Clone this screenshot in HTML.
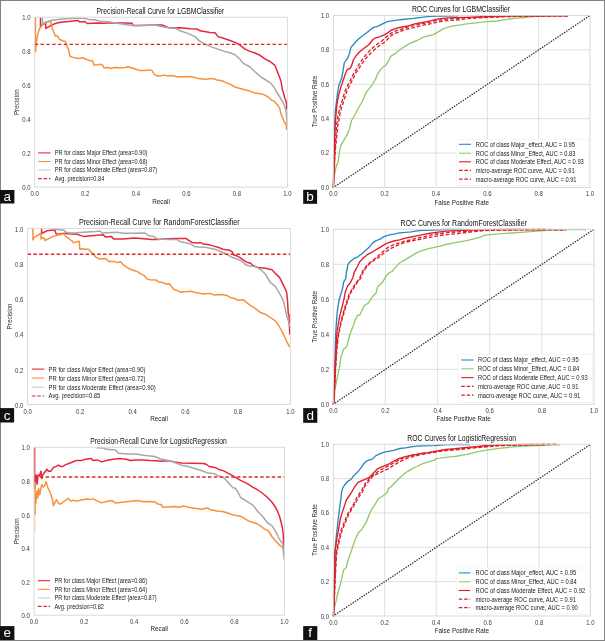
<!DOCTYPE html><html><head><meta charset="utf-8"><style>html,body{margin:0;padding:0;background:#fff;}svg{display:block;will-change:transform;}text{font-family:"Liberation Sans", sans-serif;}</style></head><body>
<svg width="605" height="641" viewBox="0 0 605 641">
<rect x="0" y="0" width="605" height="641" fill="#fff"/>
<g id="pa">
<polyline points="40.5,17.5 40.5,27 42.4,24.8 45.8,23.4 45.8,28.4 48.6,26.9 51.7,25 54.8,23.7 58,22.8 63,21.9 68.7,21.5 78,20.4 79.7,21.9 84.9,21.5 87.2,23.5 96.5,23 104,23.3 110,22.7 125,23 132,23.3 133,25.6 140,25.6 155,25 162,25 170,28.1 180,27.7 190,28.8 197,29 200,30.8 210,32.5 215,32.7 218,36.6 222,37.7 230,40.5 235,42.4 240,45.2 245,49.1 250,51.4 255,53 260,55.3 265,58.9 270,61.5 275,65.4 278,73.2 281,81 282.4,90 283.5,93.1 284.7,97.8 285.9,100.9 286.6,104 286.6,109.5" fill="none" stroke="#e8263f" stroke-width="1.5" stroke-linejoin="round"/>
<polyline points="35.5,17.5 35.5,51.8 36.7,40 38,33.7 39.2,29.4 41.1,26.2 43.6,23.7 46.7,22.2 49.8,21.6 51.1,21.9 51.4,24.4 52,27.5 53,30 54.2,33.1 55.5,36.2 56.7,35.6 58,36.8 59.2,39.3 61.1,40 63,41.2 65.2,41.2 66.4,44.7 68.7,49.9 69.9,56.2 73.3,57.4 78,58.5 82.6,57.7 87.2,59.7 90.7,60.9 92.5,60.6 94,64.9 97,64.7 101,64.3 103,65.5 104,68 108,67.4 110,68.4 115,67.4 120,67.8 125,67.4 128,66.8 132,68 136,69.3 140,70.5 145,70.5 150,69.9 152,70.5 154,74.2 157,75.8 160,76.1 164,74.9 167,76.1 172,75.5 177,76.7 185,76.7 190,76.4 195,77.4 198,78.6 205,79.2 210,78.8 214,78.8 217,80.1 222,80.8 225,82.1 230,84.2 235,87 240,88.5 250,91.1 254.7,93.1 261.7,93.9 265.6,95.5 269.5,97.8 271,99.7 274.2,101.3 277.3,104.8 279.6,107.9 280.8,113.4 282.4,117.3 284.3,122 286.3,125.1 286.6,129.8" fill="none" stroke="#f7913a" stroke-width="1.5" stroke-linejoin="round"/>
<polyline points="42.4,17.5 42.4,24.4 45.5,22.2 48.6,21.2 51.7,20.3 58,19.4 63,18.9 78,18 86,18.6 89.5,19.8 95.3,19.8 98.8,21 104,21.5 110,22.1 125,24.4 133,25.6 140,25.6 155,25 162,26.7 170,28.1 176,28.5 180,30.8 187,33.1 195,36.6 199,40.6 205,44.1 210,46.4 215,48.1 220,49.9 225,51.6 230,52.8 235,54.8 240,59.2 243,63.1 250,67 255,71.7 260,76.3 265,79.5 270,82.6 273.4,86.4 276,91 278.5,95 280.4,98 283,102.5 285,107.2 286.3,113 286.9,118.8 287.2,124.3" fill="none" stroke="#a8a8a8" stroke-width="1.5" stroke-linejoin="round"/>
<polyline points="34.7,44.4 287.4,44.4" fill="none" stroke="#e0242c" stroke-width="1.35" stroke-linejoin="round" stroke-dasharray="3.5 2.3"/>
<rect x="34.7" y="17.2" width="252.7" height="169.9" fill="none" stroke="#d6d6d6" stroke-width="0.9"/>
<text transform="translate(30.5,190) scale(0.8547,1)" font-size="7" fill="#3a3a3a" text-anchor="end">0.0</text>
<text transform="translate(34.7,196) scale(0.8547,1)" font-size="7" fill="#3a3a3a" text-anchor="middle">0.0</text>
<text transform="translate(30.5,156) scale(0.8547,1)" font-size="7" fill="#3a3a3a" text-anchor="end">0.2</text>
<text transform="translate(85.2,196) scale(0.8547,1)" font-size="7" fill="#3a3a3a" text-anchor="middle">0.2</text>
<text transform="translate(30.5,122) scale(0.8547,1)" font-size="7" fill="#3a3a3a" text-anchor="end">0.4</text>
<text transform="translate(135.8,196) scale(0.8547,1)" font-size="7" fill="#3a3a3a" text-anchor="middle">0.4</text>
<text transform="translate(30.5,88.1) scale(0.8547,1)" font-size="7" fill="#3a3a3a" text-anchor="end">0.6</text>
<text transform="translate(186.3,196) scale(0.8547,1)" font-size="7" fill="#3a3a3a" text-anchor="middle">0.6</text>
<text transform="translate(30.5,54.1) scale(0.8547,1)" font-size="7" fill="#3a3a3a" text-anchor="end">0.8</text>
<text transform="translate(236.9,196) scale(0.8547,1)" font-size="7" fill="#3a3a3a" text-anchor="middle">0.8</text>
<text transform="translate(30.5,20.1) scale(0.8547,1)" font-size="7" fill="#3a3a3a" text-anchor="end">1.0</text>
<text transform="translate(287.4,196) scale(0.8547,1)" font-size="7" fill="#3a3a3a" text-anchor="middle">1.0</text>
<text transform="translate(96.5,14.1) scale(0.8547,1)" font-size="8.2" fill="#111" textLength="149.5" lengthAdjust="spacingAndGlyphs">Precision-Recall Curve for LGBMClassifier</text>
<text transform="translate(161,203.7) scale(0.8547,1)" font-size="7.4" fill="#222" text-anchor="middle">Recall</text>
<text transform="translate(18.9,102.1) rotate(-90) scale(0.8547,1)" font-size="7.4" fill="#222" text-anchor="middle">Precision</text>
<line x1="38.2" y1="152.9" x2="50.5" y2="152.9" stroke="#e8263f" stroke-width="1.1"/>
<text transform="translate(54.8,155.2) scale(0.8547,1)" font-size="6.6" fill="#1a1a1a">PR for class Major Effect (area=0.90)</text>
<line x1="38.2" y1="161.5" x2="50.5" y2="161.5" stroke="#f7913a" stroke-width="1.1"/>
<text transform="translate(54.8,163.8) scale(0.8547,1)" font-size="6.6" fill="#1a1a1a">PR for class Minor Effect (area=0.68)</text>
<line x1="38.2" y1="170" x2="50.5" y2="170" stroke="#cccccc" stroke-width="1.1"/>
<text transform="translate(54.8,172.3) scale(0.8547,1)" font-size="6.6" fill="#1a1a1a">PR for class Moderate Effect (area=0.87)</text>
<line x1="38.2" y1="178.7" x2="50.5" y2="178.7" stroke="#e0242c" stroke-width="1.2" stroke-dasharray="3.6 1.8"/>
<text transform="translate(54.8,181) scale(0.8547,1)" font-size="6.6" fill="#1a1a1a">Avg. precision=0.84</text>
</g>
<g id="pb">
<line x1="384.7" y1="15.5" x2="384.7" y2="187.5" stroke="#dddddd" stroke-width="0.9"/>
<line x1="333.4" y1="153.1" x2="590" y2="153.1" stroke="#dddddd" stroke-width="0.9"/>
<line x1="436" y1="15.5" x2="436" y2="187.5" stroke="#dddddd" stroke-width="0.9"/>
<line x1="333.4" y1="118.7" x2="590" y2="118.7" stroke="#dddddd" stroke-width="0.9"/>
<line x1="487.4" y1="15.5" x2="487.4" y2="187.5" stroke="#dddddd" stroke-width="0.9"/>
<line x1="333.4" y1="84.3" x2="590" y2="84.3" stroke="#dddddd" stroke-width="0.9"/>
<line x1="538.7" y1="15.5" x2="538.7" y2="187.5" stroke="#dddddd" stroke-width="0.9"/>
<line x1="333.4" y1="49.9" x2="590" y2="49.9" stroke="#dddddd" stroke-width="0.9"/>
<polyline points="333.4,187.5 333.8,170 334.4,140 334.8,125 335,116.9 335.6,108.7 336.6,100.6 337.6,92.5 339.1,84.4 341.6,78.3 343.2,70.2 344.2,63 346.2,60 347.9,57.6 349.4,53.7 350.8,47.7 352.8,45.2 355.8,41.8 358.8,38.8 362.7,35.8 366.7,32.8 370.7,29.4 373.7,27.4 377.6,26.4 381.6,24.4 385.6,22.4 388.5,21.4 392,20.9 396.6,20.1 402.4,19.5 408.1,18.9 413.9,18.4 419.7,17.6 425.5,16.9 431.3,16.4 437.1,16.2 442.9,16 455,15.8 458,15.8" fill="none" stroke="#2a88c0" stroke-width="1.35" stroke-linejoin="round"/>
<polyline points="333.4,187.5 333.5,185.6 334.4,175.7 336,167 338.2,161.5 339.3,152.8 340.9,145.1 344.2,139.7 347.5,134.2 349.7,128.7 350.3,125 351.6,120.5 354.8,115 358.1,108.5 361.4,103 363.6,98.7 365.7,93.2 369,88.8 372.3,84.5 375.6,79 377.8,73.6 381,69.2 383.8,66.5 385.9,65.4 388.7,60.5 390.6,56.4 395.9,53.1 399.8,49.8 405.1,46.4 410.4,43.1 417,40.5 423.6,37.2 428.9,35.6 432.9,34.8 438.2,31.9 443.5,28.6 450.1,26.6 456.7,25.3 460.8,24.8 466.6,23.9 478.1,22.7 487.4,21.6 497.8,21 503.6,19.8 511.7,18.7 517.5,18.1 525,17.5 531.9,16.5 550,16 552,15.9" fill="none" stroke="#92c96a" stroke-width="1.35" stroke-linejoin="round"/>
<polyline points="333.4,187.5 333.6,175 334.2,150 335.2,125 335.9,115.8 336.6,107.7 337.6,100.6 339.1,93.5 341.1,86.4 343.2,80.3 345.2,74.2 347.2,69.6 350.3,68.1 351.8,65.1 353.3,60 356.8,54.7 360.8,50.7 364.7,47.7 368.7,44.7 372.7,39.8 375.6,37.8 379.6,36.8 385,34.6 390.8,30.5 396.6,28.2 402.4,27 408.1,25.9 413.9,24.1 419.7,23 425.5,21.8 431.3,20.7 437.1,19.2 442.9,18.4 448.6,17.8 455,17.7 466.6,17.4 478.1,17 489.7,16.6 501.3,16.3 512.9,16 525,15.8 568,15.8" fill="none" stroke="#dc1f2a" stroke-width="1.35" stroke-linejoin="round"/>
<polyline points="333.4,187.5 334,170 335,150 336.6,125 337.6,118.9 338.6,112.8 340.1,106.7 342.2,100.6 343.7,95.5 345.2,90.5 348.2,84.4 351.3,78.3 353.8,73.2 356.4,69.1 359.6,63.5 363.6,57.5 367.7,52.7 372.7,47.7 377.6,43.8 381.6,41.3 385,38 390.8,33.4 396.6,30.5 402.4,28.8 408.1,27 413.9,25.7 419.7,24.1 425.5,23 431.3,21.8 437.1,20.3 442.9,19.5 455,18.4 478,17.3 501,16.5 525,16 568,15.8" fill="none" stroke="#dc1f2a" stroke-width="1.35" stroke-linejoin="round" stroke-dasharray="3.7 2"/>
<polyline points="333.4,187.5 334.2,170 335.3,150 337.9,125 339.1,118.9 340.2,112.8 341.8,106.7 343.9,100.6 345.5,95.5 347.1,90.5 350.1,84.4 353.2,78.3 355.7,73.2 358.5,69.1 361.5,64.5 365.6,58.5 369.6,54.2 374.6,49.4 379.5,45.5 383.5,43 385.9,40.9 391.7,35.1 396.6,32.8 402.4,30.5 408.1,28.8 413.9,27.6 419.7,26.1 425.5,24.7 431.3,23.6 437.1,22.2 442.9,21 455,20.1 466,18.8 478,17.8 501,16.8 525,16.1 568,15.8" fill="none" stroke="#dc1f2a" stroke-width="1.35" stroke-linejoin="round" stroke-dasharray="3.7 2" stroke-dashoffset="2.2"/>
<polyline points="333.4,187.5 590,15.5" fill="none" stroke="#2a2a2a" stroke-width="1.35" stroke-linejoin="round" stroke-dasharray="0.25 2.4" stroke-linecap="round"/>
<rect x="333.4" y="15.5" width="256.6" height="172" fill="none" stroke="#d6d6d6" stroke-width="0.9"/>
<text transform="translate(329.2,189.7) scale(0.8547,1)" font-size="7" fill="#3a3a3a" text-anchor="end">0.0</text>
<text transform="translate(333.4,196.4) scale(0.8547,1)" font-size="7" fill="#3a3a3a" text-anchor="middle">0.0</text>
<text transform="translate(329.2,155.3) scale(0.8547,1)" font-size="7" fill="#3a3a3a" text-anchor="end">0.2</text>
<text transform="translate(384.7,196.4) scale(0.8547,1)" font-size="7" fill="#3a3a3a" text-anchor="middle">0.2</text>
<text transform="translate(329.2,120.9) scale(0.8547,1)" font-size="7" fill="#3a3a3a" text-anchor="end">0.4</text>
<text transform="translate(436,196.4) scale(0.8547,1)" font-size="7" fill="#3a3a3a" text-anchor="middle">0.4</text>
<text transform="translate(329.2,86.5) scale(0.8547,1)" font-size="7" fill="#3a3a3a" text-anchor="end">0.6</text>
<text transform="translate(487.4,196.4) scale(0.8547,1)" font-size="7" fill="#3a3a3a" text-anchor="middle">0.6</text>
<text transform="translate(329.2,52.1) scale(0.8547,1)" font-size="7" fill="#3a3a3a" text-anchor="end">0.8</text>
<text transform="translate(538.7,196.4) scale(0.8547,1)" font-size="7" fill="#3a3a3a" text-anchor="middle">0.8</text>
<text transform="translate(329.2,17.7) scale(0.8547,1)" font-size="7" fill="#3a3a3a" text-anchor="end">1.0</text>
<text transform="translate(590,196.4) scale(0.8547,1)" font-size="7" fill="#3a3a3a" text-anchor="middle">1.0</text>
<text transform="translate(411.9,12.1) scale(0.8547,1)" font-size="8.2" fill="#111" textLength="114.8" lengthAdjust="spacingAndGlyphs">ROC Curves for LGBMClassifier</text>
<text transform="translate(461.7,204.9) scale(0.8547,1)" font-size="7.4" fill="#222" text-anchor="middle">False Positive Rate</text>
<text transform="translate(317.4,101.5) rotate(-90) scale(0.8547,1)" font-size="7.4" fill="#222" text-anchor="middle">True Positive Rate</text>
<rect x="456.4" y="139.3" width="132.1" height="45.9" fill="#fff" stroke="#f3f3f3" stroke-width="0.8"/>
<line x1="459" y1="144.3" x2="471" y2="144.3" stroke="#2a88c0" stroke-width="1.1"/>
<text transform="translate(475.7,146.7) scale(0.8547,1)" font-size="6.7" fill="#1a1a1a">ROC of class Major_effect, AUC = 0.95</text>
<line x1="459" y1="153.2" x2="471" y2="153.2" stroke="#92c96a" stroke-width="1.1"/>
<text transform="translate(475.7,155.5) scale(0.8547,1)" font-size="6.7" fill="#1a1a1a">ROC of class Minor_Effect, AUC = 0.83</text>
<line x1="459" y1="161.8" x2="471" y2="161.8" stroke="#dc1f2a" stroke-width="1.1"/>
<text transform="translate(475.7,164.2) scale(0.8547,1)" font-size="6.7" fill="#1a1a1a">ROC of class Moderate Effect, AUC = 0.93</text>
<line x1="459" y1="170.3" x2="471" y2="170.3" stroke="#dc1f2a" stroke-width="1.2" stroke-dasharray="3.6 1.8"/>
<text transform="translate(475.7,172.7) scale(0.8547,1)" font-size="6.7" fill="#1a1a1a">micro-average ROC curve, AUC = 0.91</text>
<line x1="459" y1="179.2" x2="471" y2="179.2" stroke="#dc1f2a" stroke-width="1.2" stroke-dasharray="3.6 1.8"/>
<text transform="translate(475.7,181.5) scale(0.8547,1)" font-size="6.7" fill="#1a1a1a">macro-average ROC curve, AUC = 0.91</text>
</g>
<g id="pc">
<polyline points="41.6,228.5 41.6,233.7 44.5,232 46.8,230.8 51.5,230.2 54.9,230.2 56.1,233.7 60.7,234 64.2,233.3 67.7,233.7 72.3,234 76.9,234.3 80.4,235.4 83.9,236.6 88.5,236 94,235.6 103.3,234.8 105.6,237.1 111.4,236.6 113.7,238.9 122.9,239.1 134.5,238 143.8,238.7 151.9,239.5 157.6,239.5 164,239.1 175,238.6 186.3,238.6 189.8,241.2 192.1,242.4 197.9,242.9 200.2,242.4 203.6,244.1 209,244.7 212.9,245.9 217.9,247.3 222.9,249.3 229.8,250.3 232.3,251.8 233.3,254.8 236.7,255.8 239.7,257.3 242.7,259.7 246.7,262.2 250.6,263.2 252.6,265.2 256.6,267.2 260.5,267.7 265.6,268.3 271.9,269.8 275,273 279.7,277.6 282.8,283.9 285.1,288.6 286.7,292.5 287.5,300.3 288.3,314.3 289,314.3 289.3,323.7 289.8,334.6" fill="none" stroke="#e8263f" stroke-width="1.5" stroke-linejoin="round"/>
<polyline points="32.9,228.5 32.9,240 34.1,237.7 36.4,236 38.7,234.8 41,233.1 41,238.9 42.2,237.7 43.9,237.7 45.1,240.6 46.8,239.5 49.1,238.3 52.6,236.6 57.2,235.2 60.7,234.5 64.2,233.7 65.3,236 67.7,237.7 70,239.5 72.3,241.2 73.4,242.9 76.9,241.8 79.2,241.2 79.8,249.3 82.7,248.7 85,249.3 88.5,249.3 90.8,251.6 93.1,253.9 96.3,257.4 99.8,259.1 105.6,258.6 109,261.4 113.7,261.4 117.1,262.6 120.6,261.8 122.9,264.3 126.4,267.2 131,269.5 134.5,270.7 138,271.9 140.3,273.6 144,275.4 146.9,278.9 149.9,279.7 155.9,279.9 158.8,282.1 162.8,282.4 165.8,284 169.3,283.8 171.7,286.8 173.7,289.3 177.7,290.8 180.7,292.3 183.6,291.8 187.6,291.6 191.6,291.3 194.5,292.3 199,292.9 202.9,293.9 209.9,293.4 213.8,294.9 221.8,294.4 226.7,295.4 230.7,297.7 235.7,298.8 237.6,300.3 243.6,299.8 246.6,302.3 249.5,304.8 254.7,308.1 260.9,312.8 265.6,314.3 270.3,317.5 275,320.6 278.1,324.5 281.2,329.9 284.3,336.2 286.7,341.7 289.8,347.1" fill="none" stroke="#f7913a" stroke-width="1.5" stroke-linejoin="round"/>
<polyline points="50,228.8 52,229 64.2,230.2 65.3,232 70,233.1 74.6,232.9 79.2,232.5 83.9,232.2 90.8,231.7 96,231.4 99.8,231 102.1,232.9 117.1,232.2 122.9,233.3 134.5,233.3 144.9,233.1 148.4,235.4 153.9,236.6 157.4,238.9 168.9,239.5 177,239.5 179.3,241.2 184,242.4 186.3,242.9 190.9,244.1 194.4,246.4 197.9,247 205,247.3 210,248.3 214.9,249.3 219.9,251.3 224.8,253.3 228.8,255.3 231.8,257.3 234.8,258.2 238.7,259.7 242.7,261.7 245.7,264.7 248.6,265.7 252.6,266.2 256.2,266.7 260.9,269.8 265.6,274.5 270.3,282.3 275,286.2 278.1,290.9 281.2,296.4 283.6,301.8 285.1,308.1 286.7,315.9 288.3,320.6 289.8,326.8" fill="none" stroke="#a8a8a8" stroke-width="1.5" stroke-linejoin="round"/>
<polyline points="27.6,254.2 290.4,254.2" fill="none" stroke="#e0242c" stroke-width="1.35" stroke-linejoin="round" stroke-dasharray="3.5 2.3"/>
<rect x="27.6" y="228.4" width="262.8" height="176.1" fill="none" stroke="#d6d6d6" stroke-width="0.9"/>
<text transform="translate(23.4,407.7) scale(0.8547,1)" font-size="7" fill="#3a3a3a" text-anchor="end">0.0</text>
<text transform="translate(27.6,413.5) scale(0.8547,1)" font-size="7" fill="#3a3a3a" text-anchor="middle">0.0</text>
<text transform="translate(23.4,372.5) scale(0.8547,1)" font-size="7" fill="#3a3a3a" text-anchor="end">0.2</text>
<text transform="translate(80.2,413.5) scale(0.8547,1)" font-size="7" fill="#3a3a3a" text-anchor="middle">0.2</text>
<text transform="translate(23.4,337.3) scale(0.8547,1)" font-size="7" fill="#3a3a3a" text-anchor="end">0.4</text>
<text transform="translate(132.7,413.5) scale(0.8547,1)" font-size="7" fill="#3a3a3a" text-anchor="middle">0.4</text>
<text transform="translate(23.4,302) scale(0.8547,1)" font-size="7" fill="#3a3a3a" text-anchor="end">0.6</text>
<text transform="translate(185.3,413.5) scale(0.8547,1)" font-size="7" fill="#3a3a3a" text-anchor="middle">0.6</text>
<text transform="translate(23.4,266.8) scale(0.8547,1)" font-size="7" fill="#3a3a3a" text-anchor="end">0.8</text>
<text transform="translate(237.8,413.5) scale(0.8547,1)" font-size="7" fill="#3a3a3a" text-anchor="middle">0.8</text>
<text transform="translate(23.4,231.6) scale(0.8547,1)" font-size="7" fill="#3a3a3a" text-anchor="end">1.0</text>
<text transform="translate(290.4,413.5) scale(0.8547,1)" font-size="7" fill="#3a3a3a" text-anchor="middle">1.0</text>
<text transform="translate(79,225.1) scale(0.8547,1)" font-size="8.2" fill="#111" textLength="187.9" lengthAdjust="spacingAndGlyphs">Precision-Recall Curve for RandomForestClassifier</text>
<text transform="translate(159,420.9) scale(0.8547,1)" font-size="7.4" fill="#222" text-anchor="middle">Recall</text>
<text transform="translate(12,316.4) rotate(-90) scale(0.8547,1)" font-size="7.4" fill="#222" text-anchor="middle">Precision</text>
<line x1="31.8" y1="369.1" x2="44.3" y2="369.1" stroke="#e8263f" stroke-width="1.1"/>
<text transform="translate(48.6,371.5) scale(0.8547,1)" font-size="6.9" fill="#1a1a1a">PR for class Major Effect (area=0.90)</text>
<line x1="31.8" y1="378.1" x2="44.3" y2="378.1" stroke="#f7913a" stroke-width="1.1"/>
<text transform="translate(48.6,380.5) scale(0.8547,1)" font-size="6.9" fill="#1a1a1a">PR for class Minor Effect (area=0.72)</text>
<line x1="31.8" y1="387.2" x2="44.3" y2="387.2" stroke="#cccccc" stroke-width="1.1"/>
<text transform="translate(48.6,389.6) scale(0.8547,1)" font-size="6.9" fill="#1a1a1a">PR for class Moderate Effect (area=0.90)</text>
<line x1="31.8" y1="396" x2="44.3" y2="396" stroke="#e0242c" stroke-width="1.2" stroke-dasharray="3.6 1.8"/>
<text transform="translate(48.6,398.4) scale(0.8547,1)" font-size="6.9" fill="#1a1a1a">Avg. precision=0.85</text>
</g>
<g id="pd">
<line x1="385.4" y1="229.3" x2="385.4" y2="404.3" stroke="#dddddd" stroke-width="0.9"/>
<line x1="333.3" y1="369.3" x2="594" y2="369.3" stroke="#dddddd" stroke-width="0.9"/>
<line x1="437.6" y1="229.3" x2="437.6" y2="404.3" stroke="#dddddd" stroke-width="0.9"/>
<line x1="333.3" y1="334.3" x2="594" y2="334.3" stroke="#dddddd" stroke-width="0.9"/>
<line x1="489.7" y1="229.3" x2="489.7" y2="404.3" stroke="#dddddd" stroke-width="0.9"/>
<line x1="333.3" y1="299.3" x2="594" y2="299.3" stroke="#dddddd" stroke-width="0.9"/>
<line x1="541.9" y1="229.3" x2="541.9" y2="404.3" stroke="#dddddd" stroke-width="0.9"/>
<line x1="333.3" y1="264.3" x2="594" y2="264.3" stroke="#dddddd" stroke-width="0.9"/>
<polyline points="333.3,404.3 333.8,402.8 334.4,389.6 334.9,367.8 335.5,337.6 336,328.8 336.6,320.1 337.1,313.5 338.2,304.8 339.3,299.3 340.9,293.9 342.6,288.4 343.7,281.8 345.8,278.6 346.4,272 346.9,270.6 347.9,264.7 349.9,261.7 353.8,258.7 357.8,256.8 361.8,253.8 365.7,250.3 369.7,246.8 372.7,242.9 375.6,240.9 380.6,238.9 383.6,236.9 387.5,235.4 392,234.4 393.8,234.1 399.6,232.9 405.4,232.4 411.1,231.8 416.9,230.9 422.7,230.4 434.3,230 445.9,229.5 458,229.3 470,229.7" fill="none" stroke="#2a88c0" stroke-width="1.35" stroke-linejoin="round"/>
<polyline points="333.3,404.3 334.2,400.6 334.9,389.6 336.6,380.9 338.2,373.3 339.8,365.6 340.9,356.9 343.7,349.2 346.4,347 347.5,343.7 349.7,335 350.8,332.1 353,326.6 355.1,320.1 357.3,315.7 359.7,315 362,310.2 364.4,305.5 368.3,303.2 370.6,299.3 372.9,296.2 376.1,293.1 377.6,286.8 380,284.5 383.1,281.4 386.2,275.9 389.3,272.8 392.4,271.2 394,268.9 399.6,263 405.4,259.6 411.1,256.1 416.9,252.6 422.7,250.3 428.5,248.6 434.3,247.4 440.1,246.2 445.9,244.5 451.6,243.4 458,242.2 466.6,240.7 478.1,237.9 485.1,235.1 501.3,233.7 524.4,232.1 543,230.5 559.2,229.8 582.3,229.3 586,229.9" fill="none" stroke="#92c96a" stroke-width="1.35" stroke-linejoin="round"/>
<polyline points="333.3,404.3 333.8,402.8 334.4,389.6 335,367.8 336.6,337.6 337.1,331 338.2,324.5 339.3,317.9 340.9,311.3 342.6,304.8 344.2,298.2 345.3,291.7 347.5,286.2 350.2,282.9 353,277.5 354.2,272.3 356.8,267.7 359.8,261.7 363.7,257.8 367.7,254.3 372.7,251.8 376.6,249.3 381.6,246.3 385.6,243.9 388,242.8 393.8,241 399.6,239.9 405.4,238.1 411.1,237 416.9,235.8 422.7,234.7 428.5,233.5 434.3,232.7 440.1,231.8 445.9,231.2 451.6,230.9 458,230.6 470,230.2 485,229.7 520,229.4 545,229.9" fill="none" stroke="#dc1f2a" stroke-width="1.35" stroke-linejoin="round"/>
<polyline points="333.3,404.3 334,395 335,375 336.4,350 337.7,337.6 339.3,328.8 340.9,321.2 343.1,313.5 345.3,305.9 347.5,299.3 349.1,293.9 351.9,289.5 355.1,284 359.5,278.6 361.8,272.6 365.7,266.7 369.7,262.7 373.7,259.7 378.6,255.5 383.6,251 388,247.4 393.8,244.5 399.6,242.8 405.4,241 411.1,239.9 416.9,238.1 422.7,237 428.5,235.8 434.3,234.3 440.1,233.5 445.9,232.7 458,231.8 485,230 543,229.4 566,229.9" fill="none" stroke="#dc1f2a" stroke-width="1.35" stroke-linejoin="round" stroke-dasharray="3.7 2"/>
<polyline points="333.3,404.3 334.2,395 335.3,375 336.8,350 338.2,337.6 339.8,328.8 341.5,321.2 343.8,313.5 346,305.9 348.3,299.3 350,293.9 352.8,289.5 356.1,284 360.5,278.6 362.8,272.6 366.7,266.7 370.7,262.7 374.7,259.7 379.6,256.8 383.6,253.3 388,250.3 393.8,246.8 399.6,244.5 405.4,242.2 411.1,241 416.9,239.9 422.7,238.7 428.5,237.6 434.3,236.4 440.1,235.5 445.9,234.7 458,233.5 470,232 485,230.5 543,229.5 566,230" fill="none" stroke="#dc1f2a" stroke-width="1.35" stroke-linejoin="round" stroke-dasharray="3.7 2" stroke-dashoffset="2.2"/>
<polyline points="333.3,404.3 594,229.3" fill="none" stroke="#2a2a2a" stroke-width="1.35" stroke-linejoin="round" stroke-dasharray="0.25 2.4" stroke-linecap="round"/>
<rect x="333.3" y="229.3" width="260.7" height="175" fill="none" stroke="#d6d6d6" stroke-width="0.9"/>
<text transform="translate(329.1,406.5) scale(0.8547,1)" font-size="7" fill="#3a3a3a" text-anchor="end">0.0</text>
<text transform="translate(333.3,413.3) scale(0.8547,1)" font-size="7" fill="#3a3a3a" text-anchor="middle">0.0</text>
<text transform="translate(329.1,371.5) scale(0.8547,1)" font-size="7" fill="#3a3a3a" text-anchor="end">0.2</text>
<text transform="translate(385.4,413.3) scale(0.8547,1)" font-size="7" fill="#3a3a3a" text-anchor="middle">0.2</text>
<text transform="translate(329.1,336.5) scale(0.8547,1)" font-size="7" fill="#3a3a3a" text-anchor="end">0.4</text>
<text transform="translate(437.6,413.3) scale(0.8547,1)" font-size="7" fill="#3a3a3a" text-anchor="middle">0.4</text>
<text transform="translate(329.1,301.5) scale(0.8547,1)" font-size="7" fill="#3a3a3a" text-anchor="end">0.6</text>
<text transform="translate(489.7,413.3) scale(0.8547,1)" font-size="7" fill="#3a3a3a" text-anchor="middle">0.6</text>
<text transform="translate(329.1,266.5) scale(0.8547,1)" font-size="7" fill="#3a3a3a" text-anchor="end">0.8</text>
<text transform="translate(541.9,413.3) scale(0.8547,1)" font-size="7" fill="#3a3a3a" text-anchor="middle">0.8</text>
<text transform="translate(329.1,231.5) scale(0.8547,1)" font-size="7" fill="#3a3a3a" text-anchor="end">1.0</text>
<text transform="translate(594,413.3) scale(0.8547,1)" font-size="7" fill="#3a3a3a" text-anchor="middle">1.0</text>
<text transform="translate(400.6,225.9) scale(0.8547,1)" font-size="8.2" fill="#111" textLength="147.7" lengthAdjust="spacingAndGlyphs">ROC Curves for RandomForestClassifier</text>
<text transform="translate(463.6,421.4) scale(0.8547,1)" font-size="7.4" fill="#222" text-anchor="middle">False Positive Rate</text>
<text transform="translate(317.4,316.8) rotate(-90) scale(0.8547,1)" font-size="7.4" fill="#222" text-anchor="middle">True Positive Rate</text>
<rect x="458.5" y="354.5" width="134" height="47.8" fill="#fff" stroke="#f3f3f3" stroke-width="0.8"/>
<line x1="461.2" y1="360" x2="473.6" y2="360" stroke="#2a88c0" stroke-width="1.1"/>
<text transform="translate(478,362.4) scale(0.8547,1)" font-size="6.8" fill="#1a1a1a">ROC of class Major_effect, AUC = 0.95</text>
<line x1="461.2" y1="368.8" x2="473.6" y2="368.8" stroke="#92c96a" stroke-width="1.1"/>
<text transform="translate(478,371.2) scale(0.8547,1)" font-size="6.8" fill="#1a1a1a">ROC of class Minor_Effect, AUC = 0.84</text>
<line x1="461.2" y1="377.6" x2="473.6" y2="377.6" stroke="#dc1f2a" stroke-width="1.1"/>
<text transform="translate(478,380) scale(0.8547,1)" font-size="6.8" fill="#1a1a1a">ROC of class Moderate Effect, AUC = 0.93</text>
<line x1="461.2" y1="386.4" x2="473.6" y2="386.4" stroke="#dc1f2a" stroke-width="1.2" stroke-dasharray="3.6 1.8"/>
<text transform="translate(478,388.8) scale(0.8547,1)" font-size="6.8" fill="#1a1a1a">micro-average ROC curve, AUC = 0.91</text>
<line x1="461.2" y1="395.2" x2="473.6" y2="395.2" stroke="#dc1f2a" stroke-width="1.2" stroke-dasharray="3.6 1.8"/>
<text transform="translate(478,397.6) scale(0.8547,1)" font-size="6.8" fill="#1a1a1a">macro-average ROC curve, AUC = 0.91</text>
</g>
<g id="pe">
<polyline points="34.6,447.5 34.6,488 36.2,474.9 37.1,484.3 38.1,474.9 39.5,475.8 40.9,471.2 41.8,478.6 42.8,474.9 44.2,473 47,469.3 48.4,471.2 50.7,471.2 53.5,467.4 56.3,466.5 58.2,465.1 61,466.5 62.9,466.5 65.7,464.6 69.5,463.2 73.2,461.8 76.9,460.4 82,460.4 85.3,459.2 91.2,458.6 93.2,460.5 97.2,459.9 101.8,461.9 106.4,460.5 113.1,459.2 119.7,458.6 126.3,459.2 130.2,460.5 135.5,459.9 143.5,459.9 150.1,460.5 155,460.8 161.6,461.2 168.2,460.8 174.8,462.1 181.4,462.9 192,463.2 203.9,463.5 206.6,464.5 209.2,466.5 215.8,467.8 219.8,469.8 223.8,470.9 227.7,473.1 231.7,475.1 235,477.2 240.6,480.3 246.9,483.4 253.1,487.3 257,489.5 261.5,492.5 266.5,496.5 271,501 274,505 277,510 279.5,516.2 281.2,522.5 282.5,528.7 283.3,535 283.8,549" fill="none" stroke="#e8263f" stroke-width="1.5" stroke-linejoin="round"/>
<polyline points="34.9,512 34.9,532" fill="none" stroke="#f7913a" stroke-width="1.2" stroke-linejoin="round" stroke-opacity="0.4"/>
<polyline points="35.1,482 35.1,514.3 35,489.4 35.8,503.4 37,490.9 37.8,497.9 38.6,488.6 39.7,494.8 41.7,484.7 43.2,487 44.4,486.2 46,481.6 47.9,487.8 50.3,492.5 52.6,500.3 53.4,505.7 54.9,502.6 56.5,499.5 58.1,502.6 60,504.2 62,503 65.7,500.2 68.5,498.3 70.4,501.1 73.2,500.2 76.9,501.1 80,500.2 86.6,498.9 90.6,499.6 93.2,498.9 97.2,500.9 101.2,502.9 106.4,501.5 111.7,500.5 115.7,503.1 122.3,502.2 128.9,501.5 136.9,500.5 143.5,501.8 150.1,501.5 155,501.9 157.6,503.9 161,504.5 162.9,507.2 168.2,506.9 174.8,506.5 178.8,507.2 184.1,506.1 188.1,507.2 194.7,508.2 201.3,509.2 207.9,507.9 210.5,509.8 217.1,510.9 223.8,511.8 229.1,513.5 233,514.9 240.6,516.2 248.4,520.9 253.1,522.5 257.8,524 264,528.7 268.7,531.1 271.9,536.5 276.5,542 280.4,545.9 282.8,547.5 283.6,550.6" fill="none" stroke="#f7913a" stroke-width="1.5" stroke-linejoin="round"/>
<polyline points="96.5,447.7 103.8,448 106.4,449.3 115.7,450 118.3,453.3 126.3,453.9 135.5,453.9 143.5,455.3 150.1,455.9 155,456.5 160.3,459 168.2,460.5 174.8,462.5 181.4,465.2 188.1,466.5 194.7,468.5 201.3,470.5 207.9,473.1 214.5,473.8 218.5,475.8 223.8,477.7 227.7,481.7 231,485.7 233,487.7 235,488 237.5,491.2 240.6,497.5 246.9,501.4 253.1,505.3 257.8,511.5 262.5,516.2 267.2,522.5 271.9,525.6 275,530.3 278.1,536.5 281.2,542 282.8,542.8 283.6,553.7 284.4,560" fill="none" stroke="#a8a8a8" stroke-width="1.5" stroke-linejoin="round"/>
<polyline points="34,477 284.5,477" fill="none" stroke="#e0242c" stroke-width="1.35" stroke-linejoin="round" stroke-dasharray="3.5 2.3"/>
<rect x="34" y="447.3" width="250.5" height="167.9" fill="none" stroke="#d6d6d6" stroke-width="0.9"/>
<text transform="translate(29.8,618.3) scale(0.8547,1)" font-size="7" fill="#3a3a3a" text-anchor="end">0.0</text>
<text transform="translate(34,624.2) scale(0.8547,1)" font-size="7" fill="#3a3a3a" text-anchor="middle">0.0</text>
<text transform="translate(29.8,584.7) scale(0.8547,1)" font-size="7" fill="#3a3a3a" text-anchor="end">0.2</text>
<text transform="translate(84.1,624.2) scale(0.8547,1)" font-size="7" fill="#3a3a3a" text-anchor="middle">0.2</text>
<text transform="translate(29.8,551.1) scale(0.8547,1)" font-size="7" fill="#3a3a3a" text-anchor="end">0.4</text>
<text transform="translate(134.2,624.2) scale(0.8547,1)" font-size="7" fill="#3a3a3a" text-anchor="middle">0.4</text>
<text transform="translate(29.8,517.6) scale(0.8547,1)" font-size="7" fill="#3a3a3a" text-anchor="end">0.6</text>
<text transform="translate(184.3,624.2) scale(0.8547,1)" font-size="7" fill="#3a3a3a" text-anchor="middle">0.6</text>
<text transform="translate(29.8,484) scale(0.8547,1)" font-size="7" fill="#3a3a3a" text-anchor="end">0.8</text>
<text transform="translate(234.4,624.2) scale(0.8547,1)" font-size="7" fill="#3a3a3a" text-anchor="middle">0.8</text>
<text transform="translate(29.8,450.4) scale(0.8547,1)" font-size="7" fill="#3a3a3a" text-anchor="end">1.0</text>
<text transform="translate(284.5,624.2) scale(0.8547,1)" font-size="7" fill="#3a3a3a" text-anchor="middle">1.0</text>
<text transform="translate(90.3,444.3) scale(0.8547,1)" font-size="8.2" fill="#111" textLength="159.6" lengthAdjust="spacingAndGlyphs">Precision-Recall Curve for LogisticRegression</text>
<text transform="translate(159.2,631.4) scale(0.8547,1)" font-size="7.4" fill="#222" text-anchor="middle">Recall</text>
<text transform="translate(18.6,531.2) rotate(-90) scale(0.8547,1)" font-size="7.4" fill="#222" text-anchor="middle">Precision</text>
<line x1="37.9" y1="580.7" x2="50.1" y2="580.7" stroke="#e8263f" stroke-width="1.1"/>
<text transform="translate(54.4,583.1) scale(0.8547,1)" font-size="6.6" fill="#1a1a1a">PR for class Major Effect (area=0.86)</text>
<line x1="37.9" y1="589.3" x2="50.1" y2="589.3" stroke="#f7913a" stroke-width="1.1"/>
<text transform="translate(54.4,591.6) scale(0.8547,1)" font-size="6.6" fill="#1a1a1a">PR for class Minor Effect (area=0.64)</text>
<line x1="37.9" y1="597.9" x2="50.1" y2="597.9" stroke="#cccccc" stroke-width="1.1"/>
<text transform="translate(54.4,600.2) scale(0.8547,1)" font-size="6.6" fill="#1a1a1a">PR for class Moderate Effect (area=0.87)</text>
<line x1="37.9" y1="606.3" x2="50.1" y2="606.3" stroke="#e0242c" stroke-width="1.2" stroke-dasharray="3.6 1.8"/>
<text transform="translate(54.4,608.6) scale(0.8547,1)" font-size="6.6" fill="#1a1a1a">Avg. precision=0.82</text>
</g>
<g id="pf">
<line x1="384.7" y1="444.3" x2="384.7" y2="616" stroke="#dddddd" stroke-width="0.9"/>
<line x1="333.3" y1="581.7" x2="590.5" y2="581.7" stroke="#dddddd" stroke-width="0.9"/>
<line x1="436.2" y1="444.3" x2="436.2" y2="616" stroke="#dddddd" stroke-width="0.9"/>
<line x1="333.3" y1="547.3" x2="590.5" y2="547.3" stroke="#dddddd" stroke-width="0.9"/>
<line x1="487.6" y1="444.3" x2="487.6" y2="616" stroke="#dddddd" stroke-width="0.9"/>
<line x1="333.3" y1="513" x2="590.5" y2="513" stroke="#dddddd" stroke-width="0.9"/>
<line x1="539.1" y1="444.3" x2="539.1" y2="616" stroke="#dddddd" stroke-width="0.9"/>
<line x1="333.3" y1="478.6" x2="590.5" y2="478.6" stroke="#dddddd" stroke-width="0.9"/>
<polyline points="333.3,616 333.6,615.6 333.8,606.8 334.2,582.8 334.9,566.4 334.9,553.6 335.5,544.8 336.6,533.9 337.7,524.1 338.7,515.3 339.8,506.6 340.9,498.9 341.5,492.4 342.9,487.6 344.9,484.7 347.9,481.2 350.8,479.7 353.8,475.7 357.8,471.8 361.8,466.8 363.7,463.8 366.7,460.9 369.7,459.9 372.7,458.9 375.6,455.9 379.6,453.9 383.6,452.4 388,451.4 393.8,450.3 399.6,448.5 405.4,447.9 411.1,446.8 416.9,446.2 422.7,445.9 434.3,445.6 440.1,445 445.9,444.7 458,444.5 470,444.7" fill="none" stroke="#2a88c0" stroke-width="1.35" stroke-linejoin="round"/>
<polyline points="333.3,616 333.8,615.6 334.4,607.9 336,601.4 337.7,593.7 339.8,586.1 342,577.3 343.7,569.7 346.4,567.5 347.5,562 349.7,555.5 351.9,549.2 354,542.6 356.2,537.2 358.4,532.8 361.2,530 364.4,525.2 366.7,521.3 369,515.1 370.6,511.2 373.7,506.5 376.1,502.6 378.4,498.7 380.7,497.2 383.9,495.2 387,492.5 388.5,488.6 391.6,486.2 393.8,483.8 399.6,478 405.4,472.8 411.1,469.3 416.9,466.5 422.7,463.6 428.5,461.8 434.3,460.1 436.6,458.4 440.1,458.1 445.9,457.4 451.6,456.6 455,456.5 466.6,454.4 478.1,451.6 489.7,449.7 501.3,448.1 512.9,446.9 524.4,446 547.6,445.1 559.2,444.6 560,444.9" fill="none" stroke="#92c96a" stroke-width="1.35" stroke-linejoin="round"/>
<polyline points="333.3,616 333.6,615.6 333.8,606.8 334.2,582.8 334.9,566.4 334.9,552.5 336,544.8 337.1,537.2 338.2,531.7 339.3,525.2 340.4,518.6 342,513.1 344.2,506.6 346.4,500 350.8,493.5 354.8,486.6 357.8,482.7 361.8,480.7 365.7,479.2 369.7,477.2 373.7,472.8 377.6,468.8 381.6,466.8 385.6,465.3 388,464.5 393.8,461.2 399.6,458.4 405.4,456.6 411.1,455.5 416.9,454.3 422.7,453.1 428.5,452.6 434.3,451.4 440.1,450.3 445.9,449.3 455,448.6 466.6,447.4 478.1,446.5 489.7,445.1 512.9,444.6 531.4,444.3 545,444.8" fill="none" stroke="#dc1f2a" stroke-width="1.35" stroke-linejoin="round"/>
<polyline points="333.3,616 333.8,606.8 334.5,590 335.3,570 336,553.6 337.7,544.8 339.3,537.2 340.9,530.6 343.1,525.2 345.3,519.7 347.5,514.2 350.8,508.8 354,503.3 357.3,496.7 361.7,490.2 365.7,482.7 369.7,478.2 373.7,474.7 377.6,471.8 381.6,469.3 386.5,466.8 388,466.2 393.8,463 399.6,459.5 405.4,457.2 411.1,455.5 416.9,454.3 422.7,453.7 428.5,452.6 434.3,452 440.1,450.8 445.9,450 458,449.1 478,447 500,445.4 530,444.6 557,444.3 558,444.9" fill="none" stroke="#dc1f2a" stroke-width="1.35" stroke-linejoin="round" stroke-dasharray="3.7 2"/>
<polyline points="333.3,616 334,606.8 334.8,590 335.7,570 336.6,553.6 338.5,544.8 340.2,537.2 342,530.6 344.2,525.2 346.5,519.7 348.8,514.2 352,508.8 355.3,503.3 359,496.7 362.8,491.3 363.7,487.6 367.7,482.7 371.7,477.2 375.6,474.7 379.6,472.8 383.6,470.8 388,468.8 393.8,465.3 399.6,461.8 405.4,458.9 411.1,457.2 416.9,455.5 422.7,454.3 428.5,453.1 434.3,452.3 440.1,451.4 445.9,450.5 458,449.7 478,447.5 500,445.6 530,444.7 557,444.3 558,445" fill="none" stroke="#dc1f2a" stroke-width="1.35" stroke-linejoin="round" stroke-dasharray="3.7 2" stroke-dashoffset="2.2"/>
<polyline points="333.3,616 590.5,444.3" fill="none" stroke="#2a2a2a" stroke-width="1.35" stroke-linejoin="round" stroke-dasharray="0.25 2.4" stroke-linecap="round"/>
<rect x="333.3" y="444.3" width="257.2" height="171.7" fill="none" stroke="#d6d6d6" stroke-width="0.9"/>
<text transform="translate(329.1,618.5) scale(0.8547,1)" font-size="7" fill="#3a3a3a" text-anchor="end">0.0</text>
<text transform="translate(333.3,625) scale(0.8547,1)" font-size="7" fill="#3a3a3a" text-anchor="middle">0.0</text>
<text transform="translate(329.1,584.1) scale(0.8547,1)" font-size="7" fill="#3a3a3a" text-anchor="end">0.2</text>
<text transform="translate(384.7,625) scale(0.8547,1)" font-size="7" fill="#3a3a3a" text-anchor="middle">0.2</text>
<text transform="translate(329.1,549.8) scale(0.8547,1)" font-size="7" fill="#3a3a3a" text-anchor="end">0.4</text>
<text transform="translate(436.2,625) scale(0.8547,1)" font-size="7" fill="#3a3a3a" text-anchor="middle">0.4</text>
<text transform="translate(329.1,515.4) scale(0.8547,1)" font-size="7" fill="#3a3a3a" text-anchor="end">0.6</text>
<text transform="translate(487.6,625) scale(0.8547,1)" font-size="7" fill="#3a3a3a" text-anchor="middle">0.6</text>
<text transform="translate(329.1,481.1) scale(0.8547,1)" font-size="7" fill="#3a3a3a" text-anchor="end">0.8</text>
<text transform="translate(539.1,625) scale(0.8547,1)" font-size="7" fill="#3a3a3a" text-anchor="middle">0.8</text>
<text transform="translate(329.1,446.8) scale(0.8547,1)" font-size="7" fill="#3a3a3a" text-anchor="end">1.0</text>
<text transform="translate(590.5,625) scale(0.8547,1)" font-size="7" fill="#3a3a3a" text-anchor="middle">1.0</text>
<text transform="translate(407.2,441.4) scale(0.8547,1)" font-size="8.2" fill="#111" textLength="127.5" lengthAdjust="spacingAndGlyphs">ROC Curves for LogisticRegression</text>
<text transform="translate(461.9,632.9) scale(0.8547,1)" font-size="7.4" fill="#222" text-anchor="middle">False Positive Rate</text>
<text transform="translate(317.4,530.1) rotate(-90) scale(0.8547,1)" font-size="7.4" fill="#222" text-anchor="middle">True Positive Rate</text>
<rect x="456.8" y="568" width="132.7" height="45.8" fill="#fff" stroke="#f3f3f3" stroke-width="0.8"/>
<line x1="458.7" y1="572.9" x2="470.3" y2="572.9" stroke="#2a88c0" stroke-width="1.1"/>
<text transform="translate(475.5,575.2) scale(0.8547,1)" font-size="6.8" fill="#1a1a1a">ROC of class Major_effect, AUC = 0.95</text>
<line x1="458.7" y1="581.8" x2="470.3" y2="581.8" stroke="#92c96a" stroke-width="1.1"/>
<text transform="translate(475.5,584.1) scale(0.8547,1)" font-size="6.8" fill="#1a1a1a">ROC of class Minor_Effect, AUC = 0.84</text>
<line x1="458.7" y1="590.5" x2="470.3" y2="590.5" stroke="#dc1f2a" stroke-width="1.1"/>
<text transform="translate(475.5,592.9) scale(0.8547,1)" font-size="6.8" fill="#1a1a1a">ROC of class Moderate Effect, AUC = 0.92</text>
<line x1="458.7" y1="599.1" x2="470.3" y2="599.1" stroke="#dc1f2a" stroke-width="1.2" stroke-dasharray="3.6 1.8"/>
<text transform="translate(475.5,601.5) scale(0.8547,1)" font-size="6.8" fill="#1a1a1a">micro-average ROC curve, AUC = 0.91</text>
<line x1="458.7" y1="607.6" x2="470.3" y2="607.6" stroke="#dc1f2a" stroke-width="1.2" stroke-dasharray="3.6 1.8"/>
<text transform="translate(475.5,610) scale(0.8547,1)" font-size="6.8" fill="#1a1a1a">macro-average ROC curve, AUC = 0.90</text>
</g>
<rect x="0.5" y="0.5" width="604" height="640" fill="none" stroke="#838383" stroke-width="1"/>
<rect x="0" y="190" width="14.4" height="13.5" fill="#111"/>
<text x="7.2" y="200.9" font-size="13.5" fill="#fff" text-anchor="middle">a</text>
<rect x="303.2" y="189.8" width="13.9" height="14" fill="#111"/>
<text x="310.1" y="201.2" font-size="13.5" fill="#fff" text-anchor="middle">b</text>
<rect x="0" y="408.1" width="14.1" height="14.4" fill="#111"/>
<text x="7" y="419.9" font-size="13.5" fill="#fff" text-anchor="middle">c</text>
<rect x="303.2" y="408.1" width="14.1" height="14.7" fill="#111"/>
<text x="310.2" y="420.2" font-size="13.5" fill="#fff" text-anchor="middle">d</text>
<rect x="0" y="626.1" width="14.4" height="13.9" fill="#111"/>
<text x="7.2" y="637.4" font-size="13.5" fill="#fff" text-anchor="middle">e</text>
<rect x="303.2" y="626.1" width="14.1" height="13.9" fill="#111"/>
<text x="310.2" y="637.4" font-size="13.5" fill="#fff" text-anchor="middle">f</text>
</svg></body></html>
